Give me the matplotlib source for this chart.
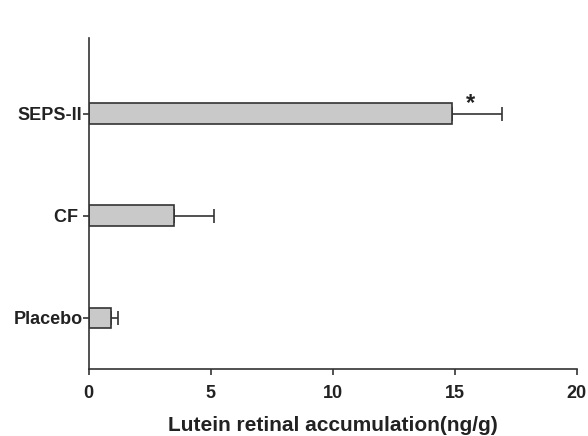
import matplotlib
matplotlib.use("Agg")
import matplotlib.pyplot as plt

categories = ["Placebo", "CF ", "SEPS-II"]
values = [0.91, 3.48, 14.9]
errors = [0.3, 1.65, 2.05]
xticks = [0, 5, 10, 15, 20]
xlabel = "Lutein retinal accumulation(ng/g)"

plt.rcParams['font.family'] = ['Liberation Sans', 'DejaVu Sans']
plt.rcParams['font.weight'] = 'bold'

fig = plt.figure(figsize=(5.88, 4.36), dpi=100)
ax = fig.add_axes([0.151, 0.154, 0.830, 0.759])

ypos = list(range(len(categories)))
ax.barh(ypos, values, height=0.2, color="#c9c9c9", edgecolor="#333333", linewidth=1.2, zorder=2)
ax.errorbar(values, ypos, xerr=[[0]*len(values), errors], fmt="none", ecolor="#333333",
            elinewidth=1.2, capsize=5, capthick=1.2, zorder=1)

ax.text(values[2] + 0.75, ypos[2] - 0.01, "*", ha="center", va="bottom", fontsize=17,
        fontweight="bold", color="#222222")

ax.set_xlim(0, 20)
ax.set_ylim(-0.5, 2.74)
ax.set_xticks(xticks)
ax.set_yticks(ypos)
ax.set_yticklabels(categories)
ax.set_xlabel(xlabel, fontsize=15, fontweight="bold", labelpad=10, color="#222222")
ax.tick_params(axis="both", labelsize=13, colors="#333333", labelcolor="#222222", width=1.2, length=4, direction="out")
ax.tick_params(axis="x", pad=7.5)
ax.tick_params(axis="y", pad=0.5)
for s in ["top", "right"]:
    ax.spines[s].set_visible(False)
for s in ["left", "bottom"]:
    ax.spines[s].set_linewidth(1.2)
    ax.spines[s].set_color("#333333")

fig.savefig("out.png", dpi=100)
